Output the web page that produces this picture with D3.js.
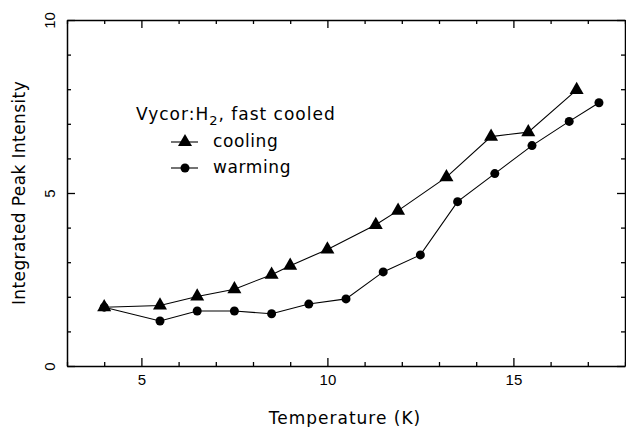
<!DOCTYPE html>
<html>
<head>
<meta charset="utf-8">
<script src="https://cdn.jsdelivr.net/npm/d3@7"></script>
<style>
  body { margin: 0; background: #fff; }
  svg { display: block; font-family: "DejaVu Sans", sans-serif; }
</style>
</head>
<body>
<div class="chart"></div>
<script>
// data
const coolingT = [4.0, 5.5, 6.5, 7.5, 8.5, 9.0, 10.0, 11.3, 11.9, 13.2, 14.4, 15.4, 16.7];
const coolingI = [1.70, 1.75, 2.01, 2.22, 2.64, 2.90, 3.37, 4.08, 4.49, 5.46, 6.63, 6.76, 7.98];
const warmingT = [4.0, 5.5, 6.5, 7.5, 8.5, 9.5, 10.5, 11.5, 12.5, 13.5, 14.5, 15.5, 16.5, 17.3];
const warmingI = [1.70, 1.30, 1.59, 1.59, 1.51, 1.79, 1.94, 2.72, 3.21, 4.75, 5.56, 6.37, 7.07, 7.61];
const xTickLabels = [5, 10, 15];
const yTickLabels = [0, 5, 10];

const OuterWidth = 626, OuterHeight = 427;
const Margin = {top: 20, right: 1, bottom: 61, left: 67};

const cooling = coolingT.map((t, i) => ({t: t, v: coolingI[i]}));
const warming = warmingT.map((t, i) => ({t: t, v: warmingI[i]}));

const svg = d3.select('.chart').append('svg')
  .attr('width', OuterWidth)
  .attr('height', OuterHeight);

// 스케일
const x = d3.scaleLinear().domain([3, 18]).range([Margin.left, OuterWidth - Margin.right]);
const y = d3.scaleLinear().domain([0, 10]).range([OuterHeight - Margin.bottom, Margin.top]);

const xMinor = d3.range(3, 19, 1);
const yMinor = d3.range(0, 11, 1);
const tickLen = d => (d % 5 === 0 ? 8 : 4);

// 축 (틱은 안쪽 방향)
function styleAxis(g) {
  g.select('.domain').attr('stroke-width', 1.5);
  g.selectAll('.tick line').attr('stroke-width', 1.3);
  g.selectAll('.tick text').style('font-size', '15px').attr('fill', '#000');
}

const xBottom = svg.append('g')
  .attr('transform', `translate(0,${y(0)})`)
  .call(d3.axisBottom(x).tickValues(xMinor).tickSizeOuter(0)
    .tickFormat(d => xTickLabels.includes(d) ? d : ''))
  .call(styleAxis);
xBottom.selectAll('.tick line').attr('y2', d => -tickLen(d));
xBottom.selectAll('.tick text').attr('y', 8).attr('dy', '0.71em');

const xTop = svg.append('g')
  .attr('transform', `translate(0,${y(10)})`)
  .call(d3.axisTop(x).tickValues(xMinor).tickSizeOuter(0).tickFormat(''))
  .call(styleAxis);
xTop.selectAll('.tick line').attr('y2', d => tickLen(d));

const yLeft = svg.append('g')
  .attr('transform', `translate(${x(3)},0)`)
  .call(d3.axisLeft(y).tickValues(yMinor).tickSizeOuter(0)
    .tickFormat(d => yTickLabels.includes(d) ? d : ''))
  .call(styleAxis);
yLeft.selectAll('.tick line').attr('x2', d => tickLen(d));
yLeft.selectAll('.tick text')
  .attr('x', null).attr('dy', null)
  .attr('text-anchor', 'middle')
  .attr('transform', 'translate(-12,0) rotate(-90)')
  .attr('y', 0);

const yRight = svg.append('g')
  .attr('transform', `translate(${x(18)},0)`)
  .call(d3.axisRight(y).tickValues(yMinor).tickSizeOuter(0).tickFormat(''))
  .call(styleAxis);
yRight.selectAll('.tick line').attr('x2', d => -tickLen(d));

// 축 제목
svg.append('text')
  .attr('x', 345)
  .attr('y', 424)
  .attr('text-anchor', 'middle')
  .style('font-size', '17px')
  .style('letter-spacing', '1px')
  .text('Temperature (K)');

svg.append('text')
  .attr('transform', `translate(25,${y(5)}) rotate(-90)`)
  .attr('text-anchor', 'middle')
  .style('font-size', '17px')
  .style('letter-spacing', '0.4px')
  .text('Integrated Peak Intensity');

// 선
const line = d3.line().x(d => x(d.t)).y(d => y(d.v));

svg.append('path').datum(warming)
  .attr('fill', 'none').attr('stroke', '#000').attr('stroke-width', 1.1)
  .attr('d', line);
svg.append('path').datum(cooling)
  .attr('fill', 'none').attr('stroke', '#000').attr('stroke-width', 1.1)
  .attr('d', line);

// 마커
const tri = d3.symbol().type(d3.symbolTriangle).size(85);

svg.append('g').selectAll('circle')
  .data(warming)
  .join('circle')
    .attr('cx', d => x(d.t))
    .attr('cy', d => y(d.v))
    .attr('r', 4.5)
    .attr('fill', '#000');

svg.append('g').selectAll('path')
  .data(cooling)
  .join('path')
    .attr('transform', d => `translate(${x(d.t)},${y(d.v)})`)
    .attr('d', tri)
    .attr('fill', '#000');

// 범례
const legend = svg.append('g');
const legendTitle = legend.append('text')
  .attr('x', 136).attr('y', 120)
  .style('font-size', '17px')
  .style('letter-spacing', '1px');
legendTitle.append('tspan').text('Vycor:H');
legendTitle.append('tspan').attr('dy', 5).style('font-size', '13px').text('2');
legendTitle.append('tspan').attr('dy', -5).text(', fast cooled');

const legendItems = [
  {label: 'cooling', y: 142, shape: 'tri'},
  {label: 'warming', y: 168, shape: 'circle'}
];
legendItems.forEach(item => {
  legend.append('line')
    .attr('x1', 171).attr('x2', 198)
    .attr('y1', item.y).attr('y2', item.y)
    .attr('stroke', '#000').attr('stroke-width', 1.1);
  if (item.shape === 'tri') {
    legend.append('path')
      .attr('transform', `translate(185,${item.y})`)
      .attr('d', tri).attr('fill', '#000');
  } else {
    legend.append('circle')
      .attr('cx', 185).attr('cy', item.y).attr('r', 4.5).attr('fill', '#000');
  }
  legend.append('text')
    .attr('x', 213).attr('y', item.y + 5)
    .style('font-size', '17px')
    .style('letter-spacing', '0.6px')
    .text(item.label);
});
</script>
</body>
</html>
